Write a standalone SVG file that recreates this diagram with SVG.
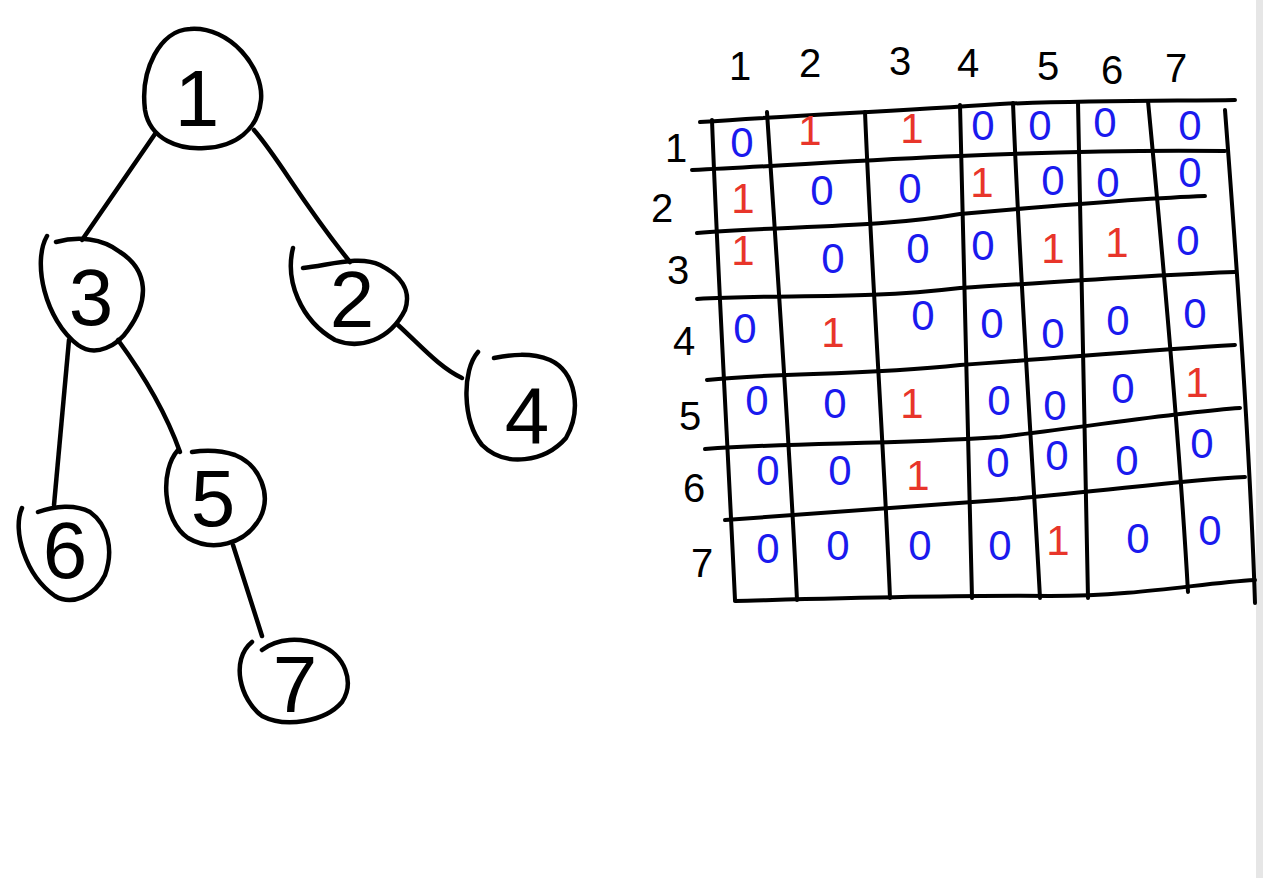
<svg xmlns="http://www.w3.org/2000/svg" width="1263" height="878" viewBox="0 0 1263 878">
<style>
.ln{fill:none;stroke:#000;stroke-width:4.5;stroke-linecap:round;stroke-linejoin:round}
.gr{fill:none;stroke:#000;stroke-width:4;stroke-linecap:round;stroke-linejoin:round}
.nl{font-family:"Liberation Sans","DejaVu Sans",sans-serif;font-size:80px;fill:#000;text-anchor:middle;font-weight:normal}
.hd{font-family:"Liberation Sans","DejaVu Sans",sans-serif;font-size:40px;fill:#000;text-anchor:middle}
.z{font-family:"Liberation Sans","DejaVu Sans",sans-serif;font-size:42px;fill:#1a1aee;text-anchor:middle}
.o{font-family:"Liberation Sans","DejaVu Sans",sans-serif;font-size:42px;fill:#e8352a;text-anchor:middle}
</style>
<rect width="1263" height="878" fill="#fff"/>
<rect x="1256" y="0" width="7" height="878" fill="#e6e6e6"/>

<g id="connectors">
<path class="ln" d="M155 134 L82 240"/>
<path class="ln" d="M254 130 C280 160 300 200 350 262"/>
<path class="ln" d="M398 325 C420 345 440 368 462 378"/>
<path class="ln" d="M69 340 L54 505"/>
<path class="ln" d="M118 340 C140 370 165 410 180 452"/>
<path class="ln" d="M233 545 L262 636"/>
</g>

<g id="node1">
<path class="ln" d="M190 29 C160 30 140 70 145 110 C150 140 180 150 205 148 C235 147 258 130 261 100 C264 68 230 26 190 29 Z"/>
<text class="nl" x="197" y="126">1</text>
</g>
<g id="node3">
<path class="ln" d="M47 236 C32 262 45 320 78 345 C96 358 118 345 128 330 C150 300 148 270 120 252 C102 238 78 236 56 242"/>
<text class="nl" x="91" y="325">3</text>
</g>
<g id="node2">
<path class="ln" d="M293 248 C285 280 300 320 335 340 C360 350 390 340 405 310 C412 290 400 275 380 265 C360 255 330 265 303 268"/>
<text class="nl" x="352" y="327">2</text>
</g>
<g id="node4">
<path class="ln" d="M478 352 C462 370 462 420 482 445 C505 468 545 462 566 438 C582 410 576 372 550 360 C530 352 510 355 494 358"/>
<text class="nl" x="527" y="443">4</text>
</g>
<g id="node5">
<path class="ln" d="M178 450 C160 470 162 520 188 538 C212 552 245 545 260 518 C272 495 260 465 235 455 C220 450 205 450 192 452"/>
<text class="nl" x="213" y="526">5</text>
</g>
<g id="node6">
<path class="ln" d="M22 508 C12 530 25 575 55 596 C72 606 95 596 105 575 C114 550 108 525 90 512 C75 504 55 506 38 512"/>
<text class="nl" x="65" y="578">6</text>
</g>
<g id="node7">
<path class="ln" d="M252 642 C230 660 240 700 262 716 C285 728 325 722 342 702 C355 682 345 655 320 645 C300 637 278 638 262 650"/>
<text class="nl" x="295" y="712">7</text>
</g>

<g id="grid">
<path class="gr" d="M700 122 C800 115 880 112 1000 104 C1100 100 1180 101 1235 100"/>
<path class="gr" d="M692 170 C780 166 860 160 960 156 C1050 152 1150 150 1225 151"/>
<path class="gr" d="M697 233 C780 226 880 228 960 214 C1050 206 1150 198 1205 196"/>
<path class="gr" d="M697 299 C780 294 860 300 960 288 C1060 282 1150 275 1235 272"/>
<path class="gr" d="M707 380 C780 372 860 376 960 365 C1060 358 1150 350 1235 345"/>
<path class="gr" d="M705 449 C800 442 880 445 1000 437 C1100 425 1180 412 1240 408"/>
<path class="gr" d="M725 520 C800 515 880 508 1000 500 C1100 492 1180 480 1245 477"/>
<path class="gr" d="M735 601 C850 598 950 595 1050 596 C1140 596 1200 583 1255 580"/>
<path class="gr" d="M712 120 C718 280 728 450 735 600"/>
<path class="gr" d="M767 112 C778 280 790 450 797 600"/>
<path class="gr" d="M865 112 C872 280 884 450 890 598"/>
<path class="gr" d="M960 105 C963 280 968 450 972 598"/>
<path class="gr" d="M1013 103 C1020 280 1032 450 1040 598"/>
<path class="gr" d="M1078 102 C1082 280 1086 450 1088 598"/>
<path class="gr" d="M1148 101 C1165 280 1180 450 1188 592"/>
<path class="gr" d="M1225 110 C1238 280 1250 450 1255 603"/>
</g>

<g id="headers">
<text class="hd" x="740" y="80">1</text>
<text class="hd" x="810" y="77">2</text>
<text class="hd" x="900" y="75">3</text>
<text class="hd" x="968" y="77">4</text>
<text class="hd" x="1048" y="80">5</text>
<text class="hd" x="1112" y="84">6</text>
<text class="hd" x="1176" y="82">7</text>
<text class="hd" x="676" y="162">1</text>
<text class="hd" x="662" y="222">2</text>
<text class="hd" x="678" y="284">3</text>
<text class="hd" x="684" y="355">4</text>
<text class="hd" x="690" y="430">5</text>
<text class="hd" x="694" y="502">6</text>
<text class="hd" x="702" y="577">7</text>
</g>

<g id="matrix">
<text class="z" x="742" y="157">0</text><text class="o" x="810" y="145">1</text><text class="o" x="912" y="143">1</text><text class="z" x="983" y="140">0</text><text class="z" x="1040" y="140">0</text><text class="z" x="1105" y="137">0</text><text class="z" x="1190" y="140">0</text>
<text class="o" x="743" y="213">1</text><text class="z" x="822" y="205">0</text><text class="z" x="910" y="203">0</text><text class="o" x="982" y="197">1</text><text class="z" x="1053" y="195">0</text><text class="z" x="1108" y="197">0</text><text class="z" x="1190" y="187">0</text>
<text class="o" x="743" y="265">1</text><text class="z" x="833" y="273">0</text><text class="z" x="918" y="263">0</text><text class="z" x="983" y="260">0</text><text class="o" x="1053" y="263">1</text><text class="o" x="1117" y="257">1</text><text class="z" x="1188" y="255">0</text>
<text class="z" x="745" y="343">0</text><text class="o" x="833" y="347">1</text><text class="z" x="923" y="330">0</text><text class="z" x="992" y="338">0</text><text class="z" x="1053" y="348">0</text><text class="z" x="1118" y="335">0</text><text class="z" x="1195" y="328">0</text>
<text class="z" x="757" y="415">0</text><text class="z" x="835" y="418">0</text><text class="o" x="912" y="418">1</text><text class="z" x="999" y="415">0</text><text class="z" x="1055" y="420">0</text><text class="z" x="1123" y="403">0</text><text class="o" x="1197" y="397">1</text>
<text class="z" x="768" y="485">0</text><text class="z" x="840" y="485">0</text><text class="o" x="918" y="490">1</text><text class="z" x="998" y="477">0</text><text class="z" x="1057" y="470">0</text><text class="z" x="1127" y="475">0</text><text class="z" x="1202" y="458">0</text>
<text class="z" x="768" y="563">0</text><text class="z" x="838" y="560">0</text><text class="z" x="920" y="560">0</text><text class="z" x="1000" y="560">0</text><text class="o" x="1058" y="555">1</text><text class="z" x="1138" y="553">0</text><text class="z" x="1210" y="545">0</text>
</g>
</svg>
